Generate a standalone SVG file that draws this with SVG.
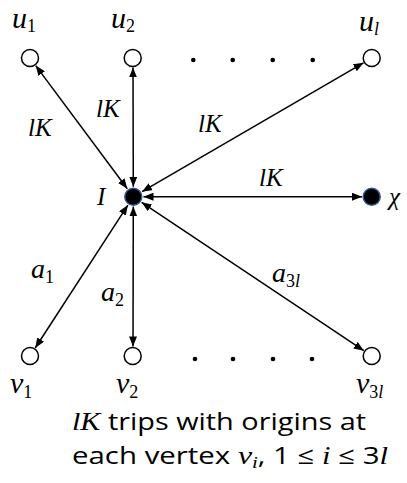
<svg xmlns="http://www.w3.org/2000/svg" width="407" height="483" viewBox="0 0 407 483">
<defs>
<marker id="ah" viewBox="0 0 10 8" refX="10" refY="4" markerWidth="10" markerHeight="8" markerUnits="userSpaceOnUse" orient="auto-start-reverse">
<path d="M0,0 L10,4 L0,8 Z" fill="#000"/>
</marker>
<style>
.m{font-family:"Liberation Serif","Times New Roman",serif;font-style:italic;font-size:25px;fill:#000}
.big{font-size:30px}
.mid{font-size:28px}
.s{font-size:18px;font-style:normal}
.si{font-size:18px;font-style:italic}
.open{fill:#fff;stroke:#000;stroke-width:1.5}
.full{fill:#000;stroke:#2F5597;stroke-width:1.5}
.dot{fill:#000}
.e{stroke:#000;stroke-width:1.5;fill:none;marker-start:url(#ah);marker-end:url(#ah)}
.cap{font-family:"Open Sans","Noto Sans",sans-serif;font-size:24px;fill:#000}
.cm{font-family:"Liberation Serif",serif;font-style:italic}
</style>
</defs>
<rect width="407" height="483" fill="#fff"/>
<g id="connectors">
<line class="e" x1="127.3" y1="188.7" x2="35.7" y2="65.6"/>
<line class="e" x1="133.3" y1="186.7" x2="133" y2="67.5"/>
<line class="e" x1="142" y1="191.7" x2="363.5" y2="62.8"/>
<line class="e" x1="143.5" y1="196.7" x2="362" y2="196.7"/>
<line class="e" x1="127.9" y1="205.1" x2="35.2" y2="348"/>
<line class="e" x1="133.3" y1="206.5" x2="133" y2="346.5"/>
<line class="e" x1="141.6" y1="202.3" x2="363.8" y2="350.7"/>
</g>
<g id="edge-labels">
<text class="m" x="28" y="136">lK</text>
<text class="m" x="96" y="117">lK</text>
<text class="m" x="198" y="132">lK</text>
<text class="m" x="259" y="186">lK</text>
<text class="m mid" x="31" y="278">a<tspan class="s" dy="5">1</tspan></text>
<text class="m mid" x="101" y="301">a<tspan class="s" dy="5">2</tspan></text>
<text class="m mid" x="272" y="282">a<tspan class="s" dy="5">3</tspan><tspan class="si">l</tspan></text>
</g>
<g id="u1"><circle class="open" cx="30" cy="58" r="8.5"/><text class="m big" x="12" y="28">u<tspan class="s" dy="4">1</tspan></text></g>
<g id="u2"><circle class="open" cx="132.7" cy="58" r="8.5"/><text class="m big" x="111" y="28">u<tspan class="s" dy="4">2</tspan></text></g>
<g id="ul"><circle class="open" cx="371.7" cy="58" r="8.5"/><text class="m big" x="359" y="31">u<tspan class="si" dy="4">l</tspan></text></g>
<g id="top-dots"><circle class="dot" cx="193.3" cy="60" r="2.3"/><circle class="dot" cx="232.7" cy="60" r="2.3"/><circle class="dot" cx="272.7" cy="60" r="2.3"/><circle class="dot" cx="312.7" cy="60" r="2.3"/></g>
<g id="I"><circle class="full" cx="133.3" cy="196.7" r="8.5"/><text class="m" x="97" y="205" font-size="26">I</text></g>
<g id="chi"><circle class="full" cx="371.7" cy="196.7" r="8.5"/><text class="m" x="389" y="205" font-size="26">χ</text></g>
<g id="v1"><circle class="open" cx="30" cy="356" r="8.5"/><text class="m big" x="10" y="393">v<tspan class="s" dy="5">1</tspan></text></g>
<g id="v2"><circle class="open" cx="132.7" cy="356" r="8.5"/><text class="m big" x="116" y="393">v<tspan class="s" dy="5">2</tspan></text></g>
<g id="v3l"><circle class="open" cx="371.7" cy="356" r="8.5"/><text class="m big" x="356" y="393">v<tspan class="s" dy="5">3</tspan><tspan class="si">l</tspan></text></g>
<g id="bottom-dots"><circle class="dot" cx="195" cy="359" r="2.3"/><circle class="dot" cx="233" cy="359" r="2.3"/><circle class="dot" cx="273" cy="359" r="2.3"/><circle class="dot" cx="312" cy="359" r="2.3"/></g>
<g id="caption">
<text class="cap" x="72" y="430" textLength="294" lengthAdjust="spacingAndGlyphs"><tspan class="cm" font-size="25">lK</tspan> trips with origins at</text>
<text class="cap" x="72" y="464" textLength="316" lengthAdjust="spacingAndGlyphs">each vertex <tspan class="cm" font-size="26">v</tspan><tspan class="cm" font-size="17" dy="4">i</tspan><tspan dy="-4">, 1 ≤ </tspan><tspan class="cm" font-size="25">i</tspan><tspan> ≤ 3</tspan><tspan class="cm" font-size="25">l</tspan></text>
</g>
</svg>
